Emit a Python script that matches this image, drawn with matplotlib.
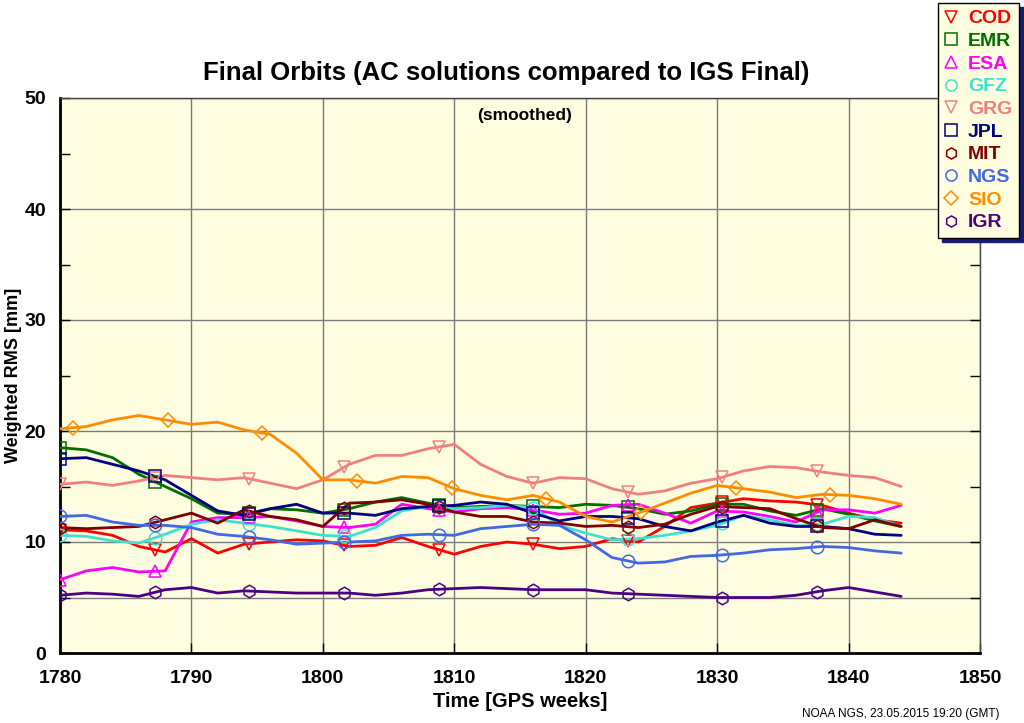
import matplotlib

matplotlib.use("Agg")
import matplotlib.pyplot as plt  # noqa: E402
from matplotlib.lines import Line2D  # noqa: E402
import numpy as np  # noqa: E402

plt.rcParams.update({
    "font.family": ["Liberation Sans", "DejaVu Sans"],
    "font.weight": "bold",
    "axes.labelweight": "bold",
})

# GPS weeks (2-week sampling)
weeks = list(range(1780, 1845, 2))

cod = [11.1, 11.0, 10.6, 9.6, 9.1, 10.3, 9.0, 9.8, 10.0, 10.2, 10.1, 9.6, 9.7, 10.4, 9.6, 8.9, 9.6,
       10.0, 9.8, 9.4, 9.6, 10.3, 10.0, 11.4, 13.1, 13.5, 13.9, 13.7, 13.6, 13.3, 12.6, 12.0, 11.7]
emr = [18.5, 18.3, 17.6, 16.1, 15.0, 13.9, 12.6, 12.5, 13.0, 12.9, 12.6, 13.0, 13.6, 14.0, 13.5, 13.1, 13.2,
       13.3, 13.2, 13.1, 13.4, 13.3, 13.0, 12.5, 12.8, 13.4, 13.4, 12.8, 12.4, 13.0, 12.5, 11.9, 11.4]
esa = [6.6, 7.4, 7.7, 7.3, 7.4, 11.8, 12.2, 12.2, 12.3, 11.9, 11.4, 11.3, 11.6, 13.4, 13.0, 12.7, 13.0,
       13.1, 12.9, 12.5, 12.6, 13.3, 13.4, 12.6, 11.7, 12.8, 12.7, 12.3, 11.8, 12.9, 12.9, 12.6, 13.3]
gfz = [10.6, 10.5, 10.1, 9.9, 10.7, 11.6, 12.0, 11.7, 11.4, 11.0, 10.6, 10.5, 11.3, 12.8, 13.2, 13.0, 13.1,
       13.3, 13.1, 11.5, 10.8, 10.2, 10.3, 10.6, 11.0, 11.5, 12.4, 12.0, 11.5, 11.6, 12.3, 12.2, 11.4]
grg = [15.2, 15.4, 15.1, 15.5, 16.0, 15.8, 15.6, 15.8, 15.3, 14.8, 15.6, 17.0, 17.8, 17.8, 18.4, 18.8, 17.0,
       15.9, 15.3, 15.8, 15.7, 14.8, 14.3, 14.6, 15.3, 15.7, 16.4, 16.8, 16.7, 16.3, 16.0, 15.8, 15.0]
jpl = [17.5, 17.6, 17.0, 16.4, 15.6, 14.2, 12.8, 12.4, 13.0, 13.4, 12.6, 12.6, 12.4, 13.0, 13.2, 13.3, 13.6,
       13.4, 12.6, 11.9, 12.3, 12.3, 12.1, 11.4, 11.0, 11.8, 12.4, 11.7, 11.4, 11.4, 11.2, 10.7, 10.6]
mit = [11.3, 11.2, 11.3, 11.4, 12.0, 12.6, 11.7, 12.9, 12.3, 12.0, 11.4, 13.5, 13.6, 13.8, 13.4, 12.7, 12.3,
       12.3, 11.8, 11.7, 11.4, 11.5, 11.3, 11.6, 12.5, 13.2, 13.1, 13.0, 12.1, 11.3, 11.2, 12.0, 11.4]
ngs = [12.3, 12.4, 11.8, 11.5, 11.5, 11.3, 10.7, 10.5, 10.2, 9.8, 9.9, 10.0, 10.1, 10.6, 10.7, 10.6, 11.2,
       11.4, 11.6, 11.5, 10.2, 8.6, 8.1, 8.2, 8.7, 8.8, 9.0, 9.3, 9.4, 9.6, 9.5, 9.2, 9.0]
sio = [20.2, 20.4, 21.0, 21.4, 21.0, 20.6, 20.8, 20.1, 19.7, 18.0, 15.6, 15.6, 15.3, 15.9, 15.8, 14.8, 14.2,
       13.8, 14.2, 13.6, 12.3, 11.8, 12.6, 13.5, 14.4, 15.1, 14.8, 14.5, 14.0, 14.3, 14.2, 13.9, 13.4]
igr = [5.2, 5.4, 5.3, 5.1, 5.7, 5.9, 5.4, 5.6, 5.5, 5.4, 5.4, 5.4, 5.2, 5.4, 5.7, 5.8, 5.9,
       5.8, 5.7, 5.7, 5.7, 5.4, 5.3, 5.2, 5.1, 5.0, 5.0, 5.0, 5.2, 5.6, 5.9, 5.5, 5.1]

# weeks where the symbols sit on the curves
mark_weeks = [1780, 1787.2, 1794.4, 1801.6, 1808.8, 1816.0, 1823.2, 1830.4, 1837.6]
mark_weeks_sio = [1781, 1788.2, 1795.4, 1802.6, 1809.8, 1817.0, 1824.2, 1831.4, 1838.6]

series = [
    ("COD", cod, "#ff0000", "v", mark_weeks),
    ("EMR", emr, "#006e00", "s", mark_weeks),
    ("ESA", esa, "#ff00ff", "^", mark_weeks),
    ("GFZ", gfz, "#40e0d0", "o", mark_weeks),
    ("GRG", grg, "#f08080", "v", mark_weeks),
    ("JPL", jpl, "#000080", "s", mark_weeks),
    ("MIT", mit, "#800000", "h", mark_weeks),
    ("NGS", ngs, "#4169e1", "o", mark_weeks),
    ("SIO", sio, "#ff8c00", "D", mark_weeks_sio),
    ("IGR", igr, "#4b0082", "h", mark_weeks),
]

fig = plt.figure(figsize=(10.24, 7.23), dpi=100)
ax = fig.add_axes([60 / 1024, 1 - 653 / 723, 920 / 1024, 555 / 723])
ax.set_facecolor("#fffde0")

for name, vals, col, mk, mw in series:
    ax.plot(weeks, vals, color=col, lw=2.0, zorder=3, solid_capstyle="round")
for name, vals, col, mk, mw in series:
    msz = 7 if mk == "D" else 9
    ax.plot(mw, np.interp(mw, weeks, vals), ls="none", marker=mk, ms=msz,
            mfc="none", mec=col, mew=1.1, zorder=4)

ax.set_xlim(1780, 1850)
ax.set_ylim(0, 50)
ax.set_xticks(range(1780, 1851, 10))
ax.set_yticks(range(0, 51, 10))
ax.set_yticks(range(5, 50, 10), minor=True)
ax.grid(True, which="major", color="#7a7a7a", lw=1, zorder=1)
ax.axhline(5, color="#7a7a7a", lw=1, zorder=1)
ax.tick_params(which="both", direction="in", length=7, width=1, labelsize=14,
               right=True, top=False)
ax.tick_params(axis="x", pad=12)
ax.tick_params(axis="y", pad=10)
for lab in ax.get_xticklabels() + ax.get_yticklabels():
    lab.set_fontweight("bold")
for s in ("left", "bottom"):
    ax.spines[s].set_linewidth(2)
for s in ("top", "right"):
    ax.spines[s].set_linewidth(1)
    ax.spines[s].set_color("#444444")

ax.set_xlabel("Time [GPS weeks]", fontsize=14.5, labelpad=4)
ax.set_ylabel("Weighted RMS [mm]", fontsize=13)
ax.yaxis.set_label_coords(-0.041, 0.5)
ax.text(0.505, 0.969, "(smoothed)", transform=ax.transAxes, ha="center", va="center",
        fontsize=12.5, fontweight="bold")

fig.text(0.494, 1 - 73 / 723, "Final Orbits (AC solutions compared to IGS Final)",
         ha="center", va="center", fontsize=18.5, fontweight="bold")
fig.text(901 / 1024, 1 - 714 / 723, "NOAA NGS, 23.05.2015 19:20 (GMT)", ha="center",
         va="center", fontsize=8.5, fontweight="normal")

handles = [Line2D([], [], ls="none", marker=mk, ms=7 if mk == "D" else 8, mfc="none",
                  mec=col, mew=1.1) for name, vals, col, mk, mw in series]
leg = fig.legend(handles, [s[0] for s in series], loc="upper right",
                 bbox_to_anchor=(1019 / 1024, 1 - 3 / 723), borderaxespad=0,
                 prop={"size": 14, "weight": "bold"}, labelcolor=[s[2] for s in series],
                 handlelength=0.7, handletextpad=0.5, labelspacing=0.26,
                 borderpad=0.35, fancybox=False, framealpha=1,
                 shadow={"ox": 3, "oy": -3, "facecolor": "#1c1c6e",
                         "edgecolor": "#1c1c6e", "alpha": 1})
leg.get_frame().set_facecolor("#fffde0")
leg.get_frame().set_edgecolor("black")
leg.get_frame().set_linewidth(1)

fig.savefig("out.png", dpi=100)
